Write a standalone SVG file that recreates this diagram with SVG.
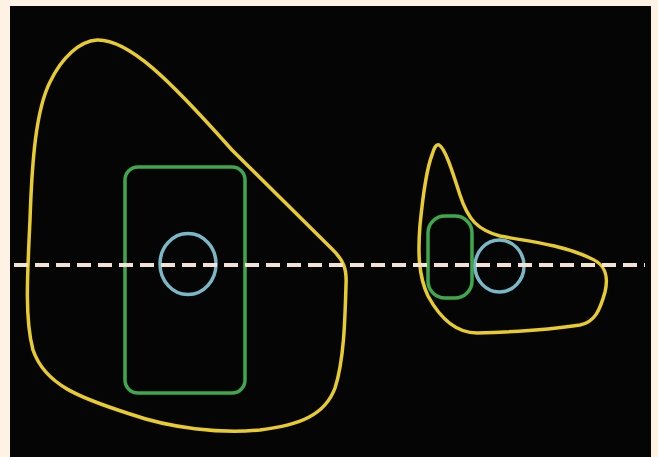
<svg xmlns="http://www.w3.org/2000/svg" width="658" height="457" viewBox="0 0 658 457">
<style>
.outline{fill:none;stroke:#e8cb2c;stroke-width:3.5;stroke-linejoin:round}
.box{fill:none;stroke:#3fa84c;stroke-width:3.5}
.ring{fill:none;stroke:#7ab8c8;stroke-width:3.5}
.axis{fill:none;stroke:#f3e1d6;stroke-width:4;stroke-dasharray:14 7}
</style>
<rect x="0" y="0" width="658" height="457" fill="#fdf2e4"/>
<rect x="10" y="6" width="641" height="451" fill="#050505"/>
<g id="large-body">
<path class="outline" d="M97,40 C128,39 168,78 232,150 L333,250 C343,260 347,268 346,285 C345,320 344,360 335,388 C325,415 300,425 260,430 C220,434 170,428 130,414 C80,398 45,385 33,350 C25,320 27,280 30,220 C32,160 36,110 50,82 C62,57 80,41 97,40 Z"/>
<rect class="box" x="125" y="167" width="120" height="226" rx="13"/>
<ellipse class="ring" cx="188" cy="264" rx="28" ry="30.5"/>
</g>
<g id="small-body">
<path class="outline" d="M439,145 C445,148 452,170 460,195 C468,220 478,230 500,236 C525,241 560,244 590,258 C605,264 609,275 605,292 C600,310 595,322 580,325 C555,329 510,332 477,333 C455,333 440,318 428,296 C418,275 418,250 420,225 C423,195 426,170 432,155 C434,148 436,144 439,145 Z"/>
<rect class="box" x="428" y="216" width="44" height="82" rx="17"/>
<ellipse class="ring" cx="499.5" cy="266" rx="24.5" ry="26"/>
</g>
<g id="connectors">
<line class="axis" x1="14" y1="265" x2="645" y2="265"/>
</g>
</svg>
